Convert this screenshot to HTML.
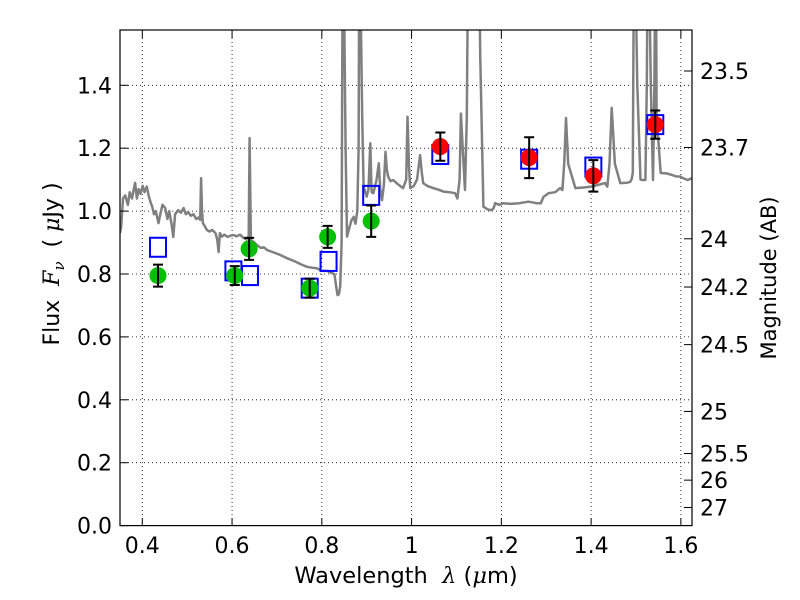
<!DOCTYPE html>
<html><head><meta charset="utf-8"><style>
body{margin:0;background:#fff}
svg{display:block;font-family:"DejaVu Sans","Liberation Sans",sans-serif}
text{white-space:pre}
</style></head><body>
<svg id="chart" width="800" height="600" viewBox="0 0 800 600">
<defs><clipPath id="clip"><rect x="120" y="30" width="572" height="495.6"/></clipPath></defs>
<rect x="0" y="0" width="800" height="600" fill="#fff"/>
<g id="grid"></g>
<g id="spec" clip-path="url(#clip)"></g>
<g id="marks"></g>
<rect x="120" y="30" width="572" height="495.6" fill="none" stroke="#000" stroke-width="1.2"/>
<g id="ticks"></g>
<text x="406" y="583" font-size="22.5" text-anchor="middle" xml:space="preserve">Wavelength  <tspan font-style="italic" font-family="DejaVu Serif, serif">λ</tspan> (<tspan font-style="italic" font-family="DejaVu Serif, serif">μ</tspan>m)</text>
<text transform="translate(59,264) rotate(-90)" font-size="22" text-anchor="middle" xml:space="preserve">Flux  <tspan font-style="italic" font-family="DejaVu Serif, serif">F</tspan><tspan font-style="italic" font-family="DejaVu Serif, serif" font-size="15" dy="5">ν</tspan><tspan dy="-5">  ( </tspan><tspan font-style="italic" font-family="DejaVu Serif, serif">μ</tspan>Jy )</text>
<text transform="translate(776,278) rotate(-90)" font-size="21" text-anchor="middle">Magnitude (AB)</text>
</svg>
<script>
const xTicks=[0.4,0.6,0.8,1.0,1.2,1.4,1.6];
const xTickLabels=["0.4","0.6","0.8","1","1.2","1.4","1.6"];
const yTicks=[0,0.2,0.4,0.6,0.8,1.0,1.2,1.4];
const yTickLabels=["0.0","0.2","0.4","0.6","0.8","1.0","1.2","1.4"];
const magTicks=[23.5,23.7,24,24.2,24.5,25,25.5,26,27];
const magTickLabels=["23.5","23.7","24","24.2","24.5","25","25.5","26","27"];
const greenX=[0.435,0.606,0.638,0.773,0.813,0.91];
const greenY=[0.795,0.795,0.88,0.755,0.918,0.968];
const greenErr=[0.035,0.03,0.035,0.03,0.035,0.05];
const redX=[1.064,1.262,1.405,1.543];
const redY=[1.205,1.17,1.112,1.275];
const redErr=[0.045,0.065,0.05,0.045];
const sqX=[0.435,0.603,0.64,0.773,0.815,0.91,1.064,1.262,1.405,1.543];
const sqY=[0.885,0.81,0.795,0.755,0.84,1.05,1.18,1.165,1.14,1.275];
const specL=[0.35,0.353,0.357,0.362,0.368,0.372,0.377,0.381,0.384,0.388,0.392,0.396,0.401,0.405,0.41,0.414,0.418,0.422,0.426,0.43,0.436,0.44,0.445,0.451,0.456,0.46,0.465,0.469,0.473,0.48,0.486,0.492,0.497,0.502,0.508,0.514,0.52,0.526,0.529,0.531,0.533,0.535,0.54,0.544,0.55,0.556,0.563,0.567,0.57,0.573,0.577,0.583,0.59,0.597,0.603,0.61,0.618,0.625,0.632,0.637,0.639,0.642,0.65,0.657,0.664,0.671,0.678,0.69,0.705,0.723,0.74,0.755,0.767,0.778,0.789,0.8,0.812,0.822,0.828,0.832,0.835,0.838,0.841,0.844,0.847,0.85,0.853,0.856,0.862,0.866,0.871,0.875,0.879,0.882,0.884,0.887,0.89,0.893,0.9,0.904,0.908,0.911,0.915,0.922,0.927,0.93,0.934,0.938,0.942,0.945,0.948,0.953,0.959,0.97,0.981,0.988,0.991,0.994,0.997,1.005,1.012,1.019,1.023,1.026,1.035,1.048,1.06,1.071,1.085,1.097,1.102,1.107,1.11,1.114,1.119,1.123,1.127,1.149,1.153,1.16,1.17,1.179,1.183,1.186,1.195,1.205,1.22,1.24,1.26,1.279,1.288,1.294,1.305,1.32,1.331,1.336,1.34,1.344,1.349,1.365,1.383,1.4,1.42,1.431,1.436,1.441,1.446,1.453,1.465,1.479,1.487,1.49,1.493,1.496,1.503,1.51,1.515,1.521,1.524,1.527,1.533,1.538,1.541,1.544,1.546,1.555,1.568,1.58,1.59,1.598,1.605,1.615,1.625];
const specF=[0.93,0.95,1.04,1.05,1.02,1.06,1.04,1.07,1.09,1.04,1.07,1.055,1.08,1.06,1.078,1.05,1.03,1.014,0.99,1.0,0.962,0.99,1.02,1.01,0.975,1.0,0.96,0.918,0.99,1.003,0.995,1.01,0.99,0.997,0.985,0.99,0.975,0.98,0.972,1.105,1.0,0.962,0.95,0.94,0.935,0.94,0.93,0.91,0.87,0.93,0.919,0.925,0.918,0.922,0.924,0.92,0.925,0.915,0.91,0.92,1.232,0.908,0.9,0.89,0.883,0.885,0.876,0.87,0.862,0.85,0.84,0.83,0.823,0.82,0.818,0.81,0.81,0.803,0.8,0.76,0.733,0.735,0.76,0.9,2.0,1.6,1.2,0.919,0.95,0.97,0.982,0.96,1.0,1.2,2.0,1.6,1.3,1.078,1.046,1.07,1.216,1.06,1.057,1.1,1.152,1.07,1.035,1.08,1.189,1.13,1.109,1.095,1.099,1.085,1.073,1.1,1.30,1.15,1.073,1.08,1.1,1.178,1.12,1.089,1.08,1.073,1.068,1.062,1.06,1.057,1.04,1.1,1.31,1.2,1.067,1.3,2.0,2.0,1.5,1.014,1.005,1.003,1.01,1.025,1.02,1.025,1.023,1.025,1.03,1.025,1.025,1.045,1.057,1.06,1.073,1.067,1.15,1.296,1.15,1.073,1.075,1.078,1.085,1.089,1.078,1.15,1.328,1.15,1.089,1.09,1.093,1.1,1.121,2.0,1.4,1.1,1.099,1.099,1.4,2.0,1.4,1.099,1.4,2.0,1.3,1.121,1.12,1.115,1.11,1.11,1.105,1.099,1.105,1.105];
const NS="http://www.w3.org/2000/svg";
const X=v=>142.3+(v-0.4)*448.8;
const Y=f=>525.6-f*314.5;
const magToFlux=m=>Math.pow(10,(23.9-m)/2.5);
function mk(tag,attrs,parent){const e=document.createElementNS(NS,tag);for(const k in attrs)e.setAttribute(k,attrs[k]);parent.appendChild(e);return e;}
const grid=document.getElementById('grid'),ticks=document.getElementById('ticks'),spec=document.getElementById('spec'),marks=document.getElementById('marks');
xTicks.forEach((v,i)=>{
 const g=mk('line',{x1:X(v),x2:X(v),y1:30,y2:525.6,stroke:'#000','stroke-width':0.8,'stroke-dasharray':'1,3'},grid);
 
 
 mk('line',{x1:X(v),x2:X(v),y1:525.6,y2:518,stroke:'#000'},ticks);
 mk('line',{x1:X(v),x2:X(v),y1:30,y2:38,stroke:'#000'},ticks);
 const t=mk('text',{x:X(v),y:553,'font-size':22,'text-anchor':'middle'},ticks);
 t.textContent=xTickLabels[i];
 
 
});
yTicks.forEach((v,i)=>{
 const g=mk('line',{x1:120,x2:692,y1:Y(v),y2:Y(v),stroke:'#000','stroke-width':0.8,'stroke-dasharray':'1,3'},grid);
 
 
 mk('line',{x1:120,x2:128,y1:Y(v),y2:Y(v),stroke:'#000'},ticks);
 const t=mk('text',{x:112,y:Y(v)+8,'font-size':22,'text-anchor':'end'},ticks);
 t.textContent=yTickLabels[i];
 
 
});
magTicks.forEach((m,i)=>{
 const y=Y(magToFlux(m));
 mk('line',{x1:692,x2:684,y1:y,y2:y,stroke:'#000'},ticks);
 const t=mk('text',{x:700,y:y+8,'font-size':22},ticks);
 t.textContent=magTickLabels[i];
 
 
});
const pts=specL.map((l,i)=>X(l).toFixed(1)+','+Y(specF[i]).toFixed(1)).join(' ');
const pl=mk('polyline',{points:pts,fill:'none',stroke:'#808080','stroke-width':2.5,'stroke-linejoin':'round'},spec);


sqX.forEach((v,i)=>{
 const r=mk('rect',{x:X(v)-8,y:Y(sqY[i])-9.5,width:16,height:19,fill:'none',stroke:'#0000ff','stroke-width':2},marks);
 
 
});
function pointsWithErr(xs,ys,es,color,name){
 xs.forEach((v,i)=>{
  const cx=X(v),cy=Y(ys[i]);
  const c=mk('circle',{cx:cx,cy:cy,r:8.5,fill:color},marks);
  
  
  const yt=Y(ys[i]+es[i]),yb=Y(ys[i]-es[i]);
  const e=mk('path',{d:`M${cx},${yt}V${yb}M${cx-5},${yt}H${cx+5}M${cx-5},${yb}H${cx+5}`,stroke:'#000','stroke-width':2,fill:'none'},marks);
  
  
 });
}
pointsWithErr(greenX,greenY,greenErr,'#00c000','observed-flux-green');
pointsWithErr(redX,redY,redErr,'#ff0000','observed-flux-red');
</script>
</body></html>
